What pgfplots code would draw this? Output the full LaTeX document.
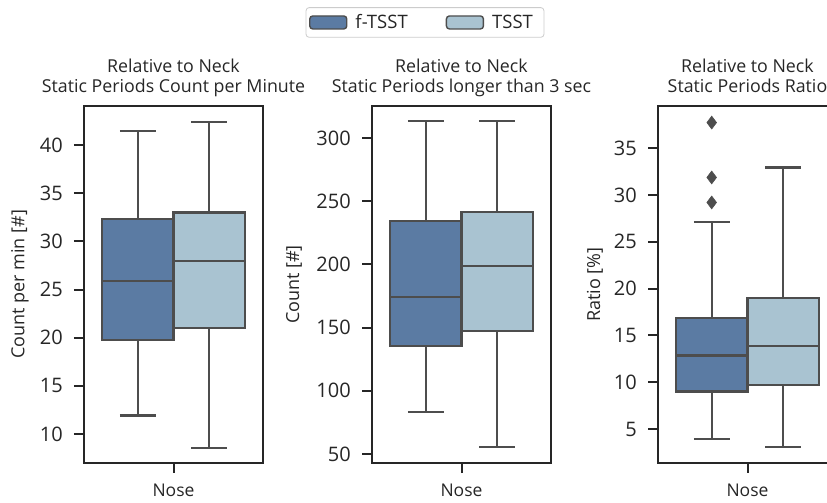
\documentclass[border=0pt]{standalone}
\usepackage{pgfplots}
\pgfplotsset{compat=1.18}
\usepackage{fontspec}
\setmainfont{Open Sans}
\definecolor{fcol}{RGB}{91,123,163}
\definecolor{tcol}{RGB}{169,195,209}
\definecolor{lcol}{RGB}{77,77,77}
\definecolor{spine}{RGB}{38,38,38}
\definecolor{leggray}{RGB}{204,204,204}
\pgfplotsset{
 panel/.style={
  scale only axis, width=179pt, height=357pt, anchor=south west,
  xmin=-0.5, xmax=0.5, xtick={0}, xticklabels={Nose},
  tick align=outside, xtick pos=bottom, ytick pos=left,
  major tick length=10pt,
  major tick style={spine, line width=2pt},
  axis line style={spine, line width=2pt},
  tick label style={font=\fontsize{20}{22}\selectfont, text=spine},
  yticklabel style={inner sep=0pt, xshift=-11pt},
  xticklabel style={inner sep=0pt, yshift=-11pt, font=\fontsize{17.5}{20}\selectfont},
  /pgf/number format/assume math mode=true,
  title style={font=\fontsize{17.8}{20}\selectfont, align=center, text=spine,
    at={(axis description cs:0.5,1)}, anchor=base, yshift=7.7pt, inner sep=0pt},
  ylabel style={font=\fontsize{18}{20}\selectfont, text=spine},
  clip=false,
 },
 bx/.style={draw=lcol, line width=2.2pt, mark=none},
}
% left box (f-TSST): #1 lower whisker, #2 Q1, #3 median, #4 Q3, #5 upper whisker
\newcommand\boxL[5]{%
  \addplot[bx] coordinates {(-0.2,#2) (-0.2,#1)};
  \addplot[bx] coordinates {(-0.3,#1) (-0.1,#1)};
  \addplot[bx] coordinates {(-0.2,#4) (-0.2,#5)};
  \addplot[bx] coordinates {(-0.3,#5) (-0.1,#5)};
  \addplot[bx, fill=fcol] coordinates {(-0.4,#2) (0,#2) (0,#4) (-0.4,#4)} -- cycle;
  \addplot[bx] coordinates {(-0.4,#3) (0,#3)};
}
% right box (TSST)
\newcommand\boxR[5]{%
  \addplot[bx] coordinates {(0.2,#2) (0.2,#1)};
  \addplot[bx] coordinates {(0.1,#1) (0.3,#1)};
  \addplot[bx] coordinates {(0.2,#4) (0.2,#5)};
  \addplot[bx] coordinates {(0.1,#5) (0.3,#5)};
  \addplot[bx, fill=tcol] coordinates {(0,#2) (0.4,#2) (0.4,#4) (0,#4)} -- cycle;
  \addplot[bx] coordinates {(0,#3) (0.4,#3)};
}
\begin{document}
\begin{tikzpicture}
% Panel 1
\begin{axis}[panel, at={(84pt,40pt)},
  ymin=7, ymax=44.05, ytick={10,15,20,25,30,35,40},
  title={Relative to Neck\\Static Periods Count per Minute},
  ylabel={Count per min [\#]},
  ylabel style={at={(axis description cs:-0.358,0.5)}, anchor=center},
  legend columns=2,
  legend image code/.code={\draw[#1] (0pt,-6.5pt) rectangle (37pt,6.5pt);},
  legend style={at={(axis description cs:1.905,1.234)}, anchor=center,
    draw=leggray, line width=0.8pt, rounded corners=3pt,
    font=\fontsize{18.5}{20}\selectfont, text=spine,
    inner xsep=3pt, inner ysep=5pt,
    nodes={inner xsep=8pt},
    /tikz/every even column/.append style={column sep=30pt}},
]
\addlegendimage{fill=fcol, draw=lcol, line width=1.4pt}
\addlegendentry{f-TSST}
\addlegendimage{fill=tcol, draw=lcol, line width=1.4pt}
\addlegendentry{TSST}
\boxL{11.93}{19.75}{25.88}{32.3}{41.48}
\boxR{8.54}{20.97}{27.99}{33.0}{42.39}
\end{axis}
% Panel 2
\begin{axis}[panel, at={(372pt,40pt)},
  ymin=42.9, ymax=325.3, ytick={50,100,150,200,250,300},
  title={Relative to Neck\\Static Periods longer than 3 sec},
  ylabel={Count [\#]},
  ylabel style={at={(axis description cs:-0.436,0.5)}, anchor=center},
]
\boxL{83.0}{135.7}{174.4}{234.6}{313.2}
\boxR{55.8}{147.3}{198.5}{241.2}{313.2}
\end{axis}
% Panel 3
\begin{axis}[panel, at={(658pt,40pt)},
  ymin=1.38, ymax=39.5, ytick={5,10,15,20,25,30,35},
  title={Relative to Neck\\Static Periods Ratio},
  ylabel={Ratio [\%]},
  ylabel style={at={(axis description cs:-0.352,0.5)}, anchor=center},
]
\boxL{3.94}{9.01}{12.85}{16.85}{27.12}
\boxR{3.08}{9.69}{13.87}{19.03}{32.93}
\addplot[only marks, mark=diamond*, mark size=6.5pt,
  mark options={fill=lcol, draw=lcol, line width=0.5pt}]
  coordinates {(-0.2,37.73) (-0.2,31.87) (-0.2,29.2)};
\end{axis}
\pgfresetboundingbox
\useasboundingbox (0,0) rectangle (827pt,503pt);
\end{tikzpicture}
\end{document}
